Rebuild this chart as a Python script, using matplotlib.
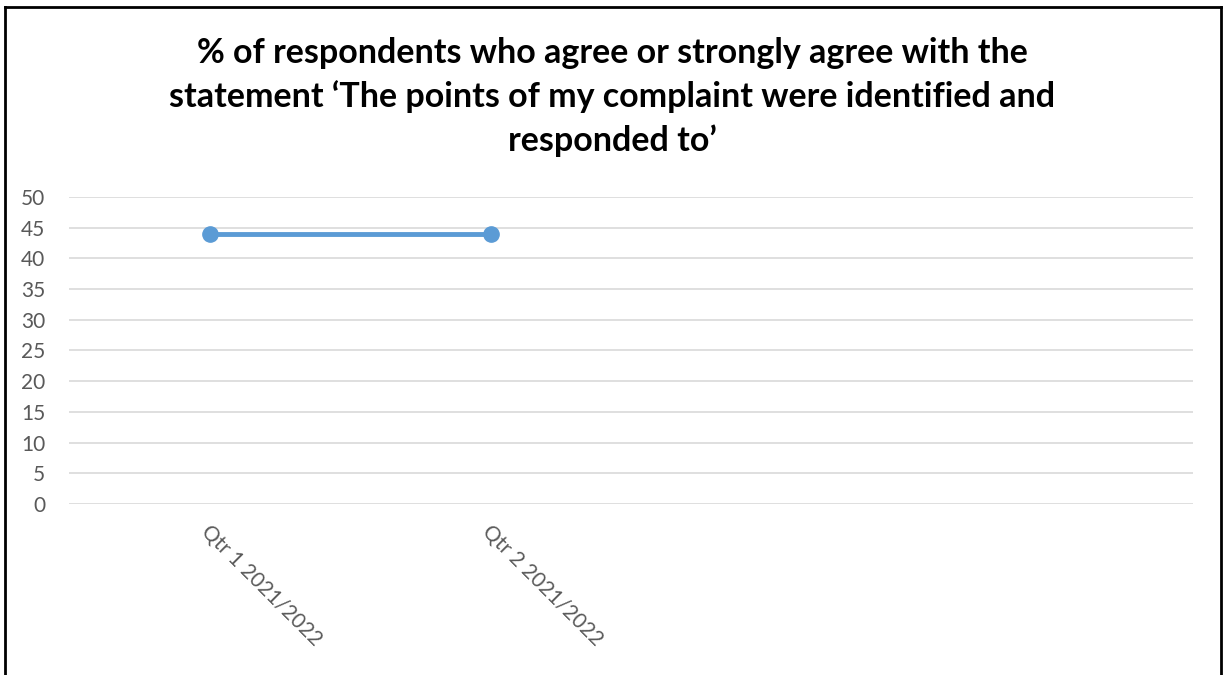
import matplotlib
matplotlib.use("Agg")
import matplotlib.pyplot as plt
import numpy as np
from matplotlib.lines import Line2D

categories = ["Qtr 1 2021/2022", "Qtr 2 2021/2022", "", ""]
values = [44, 44, np.nan, np.nan]
yticks = [0, 5, 10, 15, 20, 25, 30, 35, 40, 45, 50]
title = ("% of respondents who agree or strongly agree with the\n"
         "statement \u2018The points of my complaint were identified and\n"
         "responded to\u2019")

plt.rcParams['font.family'] = ['Lato', 'DejaVu Sans']

fig = plt.figure(figsize=(12.24, 6.75), dpi=100)
ax = fig.add_axes([69/1224, 1-504/675, (1193-69)/1224, (504-197)/675])

x = np.arange(len(categories))
ax.plot(x, values, color='#5B9BD5', linewidth=3.5, marker='o', markersize=11,
        solid_capstyle='round', zorder=3)

ax.set_xlim(-0.5, len(categories) - 0.5)
ax.set_ylim(0, 50)
ax.set_yticks(yticks)
ax.set_yticklabels([str(v) for v in yticks])
ax.set_xticks(x)
ax.set_xticklabels(categories, rotation=-45, ha='left', va='center',
                   rotation_mode='anchor')
ax.tick_params(axis='y', length=0, pad=17, labelsize=15, labelcolor='#595959')
ax.tick_params(axis='x', length=0, pad=18, labelsize=15, labelcolor='#595959')
for lab in ax.get_xticklabels():
    lab.set_transform(lab.get_transform() + matplotlib.transforms.ScaledTranslation(-5/100, 0, fig.dpi_scale_trans))

ax.grid(axis='y', color='#D9D9D9', linewidth=1.2)
ax.set_axisbelow(True)
for s in ax.spines.values():
    s.set_visible(False)

fig.text(0.5, 1-97/675, title, ha='center', va='center', fontsize=24.5,
         fontweight='bold', color='black', linespacing=1.42)

# chart border (top, left, right)
fig.add_artist(Line2D([5/1224, 5/1224], [0, 1-7/675], transform=fig.transFigure, color='black', linewidth=2))
fig.add_artist(Line2D([1221/1224, 1221/1224], [0, 1-7/675], transform=fig.transFigure, color='black', linewidth=2))
fig.add_artist(Line2D([5/1224, 1221/1224], [1-7/675, 1-7/675], transform=fig.transFigure, color='black', linewidth=2))

fig.savefig("out.png", dpi=100, facecolor='white')
